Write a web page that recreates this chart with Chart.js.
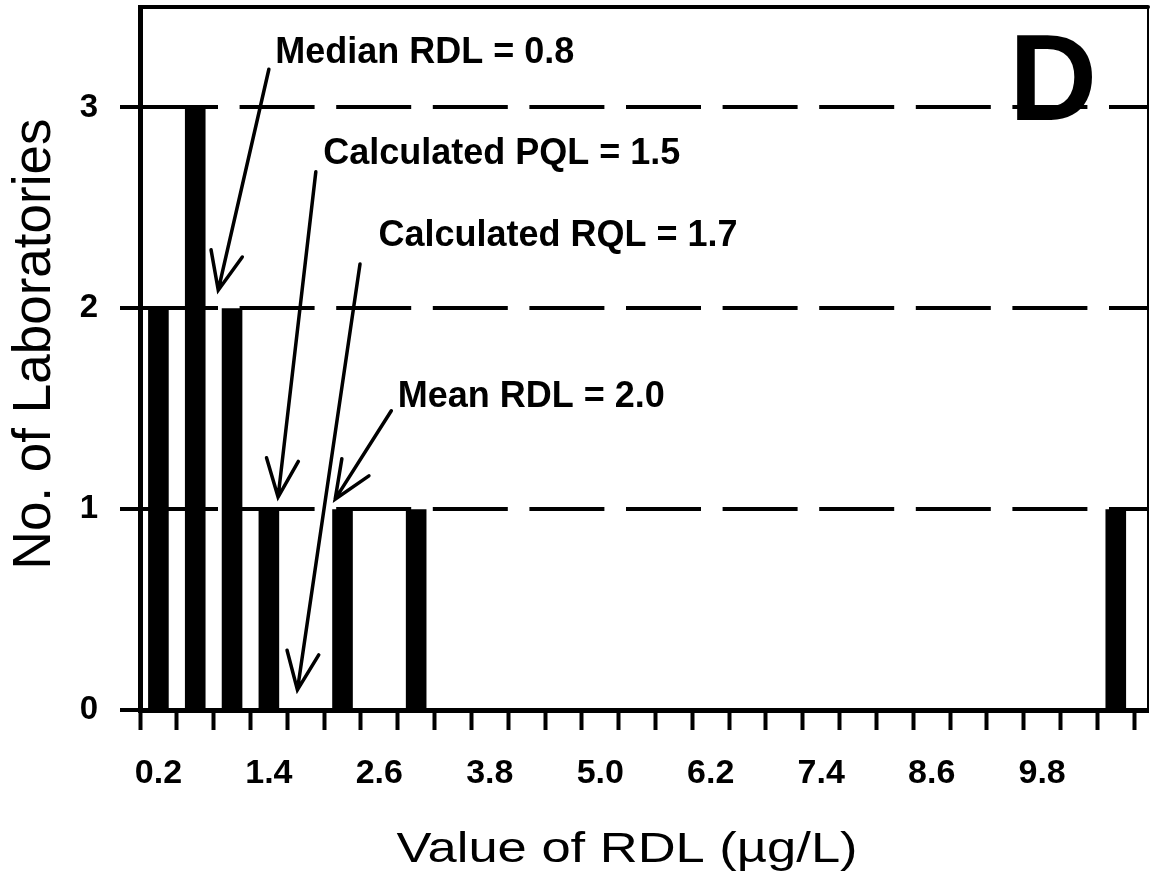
<!DOCTYPE html>
<html>
<head>
<meta charset="utf-8">
<title>Value of RDL</title>
<script src="https://cdn.jsdelivr.net/npm/chart.js@4.4.0/dist/chart.umd.min.js"></script>
<style>
    html, body { margin: 0; padding: 0; background: #fff; }
    #wrap { width: 1151px; height: 886px; position: relative; }
</style>
</head>
<body>
<div id="wrap"><canvas id="rdlChart"></canvas></div>
<script>
// RDL bins (bin centres, ug/L) and number of laboratories in each bin
const binCentres = [0.2, 0.6, 1.0, 1.4, 1.8, 2.2, 2.6, 3.0, 3.4, 3.8, 4.2, 4.6, 5.0, 5.4,
                    5.8, 6.2, 6.6, 7.0, 7.4, 7.8, 8.2, 8.6, 9.0, 9.4, 9.8, 10.2, 10.6];
const labCounts = [2, 3, 2, 1, 0, 1, 0, 1, 0, 0, 0, 0, 0, 0,
                   0, 0, 0, 0, 0, 0, 0, 0, 0, 0, 0, 0, 1];

// labelled ticks
const xTickLabels = [0.2, 1.4, 2.6, 3.8, 5.0, 6.2, 7.4, 8.6, 9.8];
const yTickValues = [0, 1, 2, 3];

// call-outs: text anchor, arrow start, arrow tip (data units)
const noteTexts = ['Median RDL = 0.8', 'Calculated PQL = 1.5', 'Calculated RQL = 1.7', 'Mean RDL = 2.0'];
const noteTextAt = [[1.47, 3.22], [1.99, 2.72], [2.59, 2.31], [2.80, 1.51]];
const noteArrowFrom = [[1.40, 3.19], [1.91, 2.68], [2.39, 2.22], [2.73, 1.49]];
const noteArrowTo = [[0.85, 2.09], [1.50, 1.06], [1.71, 0.10], [2.12, 1.05]];

const FONT = '"Liberation Sans", Arial, Helvetica, sans-serif';

function drawArrow(ctx, x1, y1, x2, y2) {
    const ang = Math.atan2(y1 - y2, x1 - x2);
    const head = 41, spread = 23 * Math.PI / 180;
    ctx.beginPath();
    ctx.moveTo(x1, y1);
    ctx.lineTo(x2, y2);
    ctx.moveTo(x2 + head * Math.cos(ang - spread), y2 + head * Math.sin(ang - spread));
    ctx.lineTo(x2, y2);
    ctx.lineTo(x2 + head * Math.cos(ang + spread), y2 + head * Math.sin(ang + spread));
    ctx.stroke();
}

// no extra room for the end labels
function noScalePadding(s) {
    s.paddingTop = 0;
    s.paddingBottom = 0;
    s.paddingLeft = 0;
    s.paddingRight = 0;
}

// frame, call-outs, panel letter and axis titles
const decorations = {
    id: 'decorations',
    afterDraw(chart) {
        const { ctx, chartArea: area, scales: { x, y } } = chart;
        ctx.save();
        ctx.strokeStyle = '#000';
        ctx.fillStyle = '#000';
        ctx.lineCap = 'round';

        ctx.lineWidth = 4;
        ctx.beginPath();
        ctx.moveTo(area.left, area.top);
        ctx.lineTo(area.right, area.top);
        ctx.stroke();
        ctx.lineWidth = 2;
        ctx.beginPath();
        ctx.moveTo(area.right, area.top);
        ctx.lineTo(area.right, area.bottom);
        ctx.stroke();

        ctx.font = 'bold 36px ' + FONT;
        ctx.textAlign = 'left';
        ctx.textBaseline = 'alphabetic';
        ctx.lineWidth = 3.5;
        noteTexts.forEach((t, i) => {
            ctx.fillText(t, x.getPixelForValue(noteTextAt[i][0]), y.getPixelForValue(noteTextAt[i][1]));
            drawArrow(ctx,
                x.getPixelForValue(noteArrowFrom[i][0]), y.getPixelForValue(noteArrowFrom[i][1]),
                x.getPixelForValue(noteArrowTo[i][0]), y.getPixelForValue(noteArrowTo[i][1]));
        });

        // panel letter
        ctx.font = 'bold 122px ' + FONT;
        ctx.textAlign = 'right';
        ctx.fillText('D', area.right - 51, area.top + 113);

        // y title
        ctx.save();
        ctx.translate(50, 344);
        ctx.rotate(-Math.PI / 2);
        ctx.font = '53px ' + FONT;
        ctx.textAlign = 'center';
        ctx.fillText('No. of Laboratories', 0, 0);
        ctx.restore();

        // x title
        ctx.save();
        ctx.translate(627, 862);
        ctx.scale(1.25, 1);
        ctx.font = '42px ' + FONT;
        ctx.textAlign = 'center';
        ctx.fillText('Value of RDL (\u00b5g/L)', 0, 0);
        ctx.restore();

        ctx.restore();
    }
};

new Chart(document.getElementById('rdlChart'), {
    type: 'bar',
    data: {
        datasets: [{
            data: binCentres.map((c, i) => ({ x: c, y: labCounts[i] })),
            backgroundColor: '#000',
            borderWidth: 0,
            categoryPercentage: 1,
            barPercentage: 0.56
        }]
    },
    options: {
        responsive: true,
        maintainAspectRatio: false,
        animation: false,
        layout: { padding: { top: 7, right: 3, left: 0, bottom: 0 } },
        plugins: {
            legend: { display: false },
            tooltip: { enabled: false }
        },
        scales: {
            x: {
                type: 'linear',
                position: 'bottom',
                weight: 0,
                offset: false,
                min: 0,
                max: 10.95,
                ticks: { stepSize: 0.4, display: false, includeBounds: false },
                afterBuildTicks: s => { s.ticks = s.ticks.filter(t => t.value <= 10.85); },
                afterFit: s => { s.height = 20; noScalePadding(s); },
                grid: {
                    offset: false,
                    drawOnChartArea: false,
                    color: '#000',
                    tickColor: '#000',
                    tickLength: 20,
                    tickWidth: 4
                },
                border: { color: '#000', width: 5 }
            },
            xl: {
                type: 'linear',
                position: 'bottom',
                weight: 1,
                offset: false,
                min: 0,
                max: 10.95,
                afterBuildTicks: s => { s.ticks = xTickLabels.map(v => ({ value: v })); },
                afterFit: s => { s.height = 156; noScalePadding(s); },
                ticks: {
                    autoSkip: false,
                    maxRotation: 0,
                    padding: 15,
                    color: '#000',
                    font: { family: FONT, size: 34, weight: 'bold' },
                    callback: v => Number(v).toFixed(1)
                },
                grid: { display: false },
                border: { display: false }
            },
            y: {
                min: 0,
                max: 3.5,
                afterBuildTicks: s => { s.ticks = yTickValues.map(v => ({ value: v })); },
                afterFit: s => { s.width = 140; noScalePadding(s); },
                ticks: {
                    padding: 22,
                    color: '#000',
                    font: { family: FONT, size: 33, weight: 'bold' }
                },
                grid: {
                    color: c => (c.tick && c.tick.value === 0 ? 'rgba(0,0,0,0)' : '#000'),
                    lineWidth: 4,
                    tickBorderDash: [],
                    tickColor: '#000',
                    tickLength: 20,
                    tickWidth: 4
                },
                border: { color: '#000', width: 5, dash: [75, 21.6] }
            }
        }
    },
    plugins: [decorations]
});
</script>
</body>
</html>
